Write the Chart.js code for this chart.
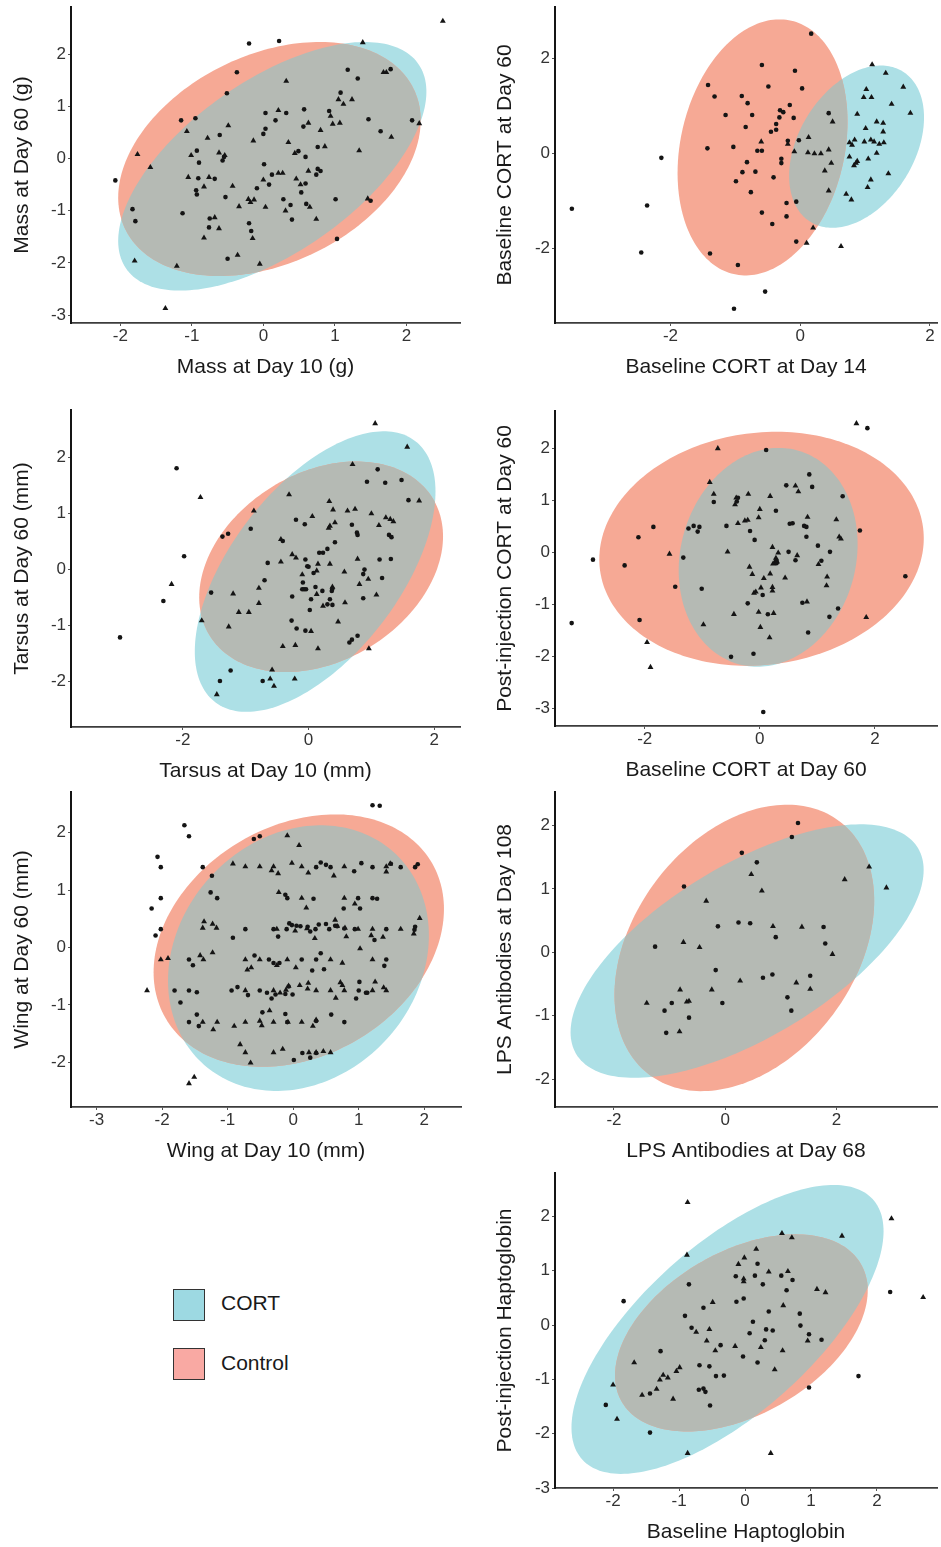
<!DOCTYPE html>
<html>
<head>
<meta charset="utf-8">
<script src="https://cdn.jsdelivr.net/npm/chart.js@4.4.1/dist/chart.umd.min.js"></script>
<style>
  html, body { margin:0; padding:0; background:#fff; }
  body { width:941px; height:1547px; position:relative; overflow:hidden; font-family:"Liberation Sans", Arial, sans-serif; }
  canvas { position:absolute; }
  .lg-box { position:absolute; width:30px; height:30px; border:1.5px solid #333; }
  .lg-txt { position:absolute; font-size:21px; color:#1a1a1a; line-height:32px; }
</style>
</head>
<body>
<div class="lg-box" style="left:173px;top:1289px;background:#9DD9E2;"></div>
<div class="lg-txt" style="left:221px;top:1287px;">CORT</div>
<div class="lg-box" style="left:173px;top:1348px;background:#F9A9A3;"></div>
<div class="lg-txt" style="left:221px;top:1347px;">Control</div>
<script>
// ---------------- DATA ----------------
// Panel 1: Mass
const p1CtrlX = [-0.20,0.22,-0.37,1.18,1.32,1.78,-0.51,1.08,0.57,0.32,0.03,0.92,0.17,-1.15,-0.95,-0.61,0.03,0.00,0.56,1.47,2.08,1.64,0.76,0.49,0.59,-0.93,-0.90,-0.55,-0.57,-2.07,-0.91,-0.68,-0.94,-0.93,-0.53,0.01,0.08,0.12,-0.09,0.59,0.53,0.74,0.76,0.80,0.28,0.38,0.60,1.01,1.50,-1.13,-1.83,-1.79,-0.75,-0.76,-0.20,-0.17,1.03,-0.50,0.40];
const p1CtrlY = [2.20,2.25,1.65,1.70,1.53,1.71,1.25,1.26,0.94,0.87,0.87,0.91,0.73,0.73,0.77,0.45,0.57,0.47,0.61,0.75,0.73,0.52,0.22,0.14,0.03,0.15,-0.08,0.03,-0.04,-0.42,-0.38,-0.39,-0.61,-0.69,-0.74,-0.11,-0.50,-0.31,-0.57,-0.48,-0.65,-0.31,-0.20,-0.24,-0.78,-0.89,-0.87,-0.78,-0.81,-1.05,-0.97,-1.20,-1.15,-1.32,-1.24,-1.39,-1.54,-1.92,-1.17];
const p1CortX = [2.51,1.39,0.32,1.68,1.72,1.05,1.12,1.24,0.21,0.94,-1.07,-0.49,-0.78,0.63,0.97,1.07,2.18,1.79,0.80,-0.14,0.35,0.86,0.44,1.34,-1.01,-0.62,-0.54,-1.76,-1.58,-1.05,-0.76,-0.83,-0.43,0.00,0.21,0.27,0.46,0.52,0.63,-0.21,-0.18,-0.13,0.31,0.65,-0.34,0.03,1.46,-0.68,-0.62,-0.83,-0.15,0.74,-1.80,-1.21,-0.36,-0.05,-1.37];
const p1CortY = [2.63,2.22,1.48,1.65,1.65,1.13,1.04,1.13,0.92,0.81,0.52,0.63,0.39,0.68,0.66,0.68,0.67,0.41,0.54,0.34,0.31,0.23,0.10,0.15,0.06,0.11,0.06,0.08,-0.17,-0.36,-0.36,-0.54,-0.53,-0.41,-0.28,-0.28,-0.39,-0.50,-0.24,-0.78,-0.84,-0.79,-1.00,-0.93,-0.92,-0.93,-0.77,-1.13,-1.34,-1.52,-1.53,-1.16,-1.96,-2.06,-1.85,-2.02,-2.87];
const p1CtrlEllipse = [0.085,-0.01,2.115,2.24,0.33];   // centre x, centre y, half width, half height, tilt
const p1CortEllipse = [0.125,-0.15,2.155,2.38,0.60];
const p1XTicks = [-2,-1,0,1,2];
const p1YTicks = [-3,-2,-1,0,1,2];

// Panel 2: Baseline CORT
const p2CtrlX = [0.17,-0.59,-0.08,-1.42,-0.49,0.03,-1.32,-0.90,-0.81,-0.16,-0.31,-0.26,-1.15,-0.74,-0.32,-0.10,-0.37,-0.84,-0.37,-0.45,0.44,-0.19,-0.02,-1.43,-1.03,-0.66,-0.59,-2.14,-0.29,-0.29,-0.82,-0.89,-0.69,-0.41,-0.99,-0.76,-0.06,-0.21,-0.59,-0.21,-0.43,-0.06,-1.39,-0.96,-0.54,-1.02,-3.52,-2.36,-2.45];
const p2CtrlY = [2.52,1.86,1.74,1.44,1.41,1.37,1.20,1.21,1.06,1.02,0.91,0.87,0.81,0.81,0.76,0.75,0.62,0.56,0.50,0.46,0.85,0.27,0.28,0.11,0.14,0.06,0.06,-0.09,-0.11,-0.20,-0.18,-0.39,-0.38,-0.50,-0.58,-0.81,-1.01,-1.04,-1.24,-1.32,-1.48,-1.85,-2.10,-2.34,-2.90,-3.26,-1.16,-1.09,-2.08];
const p2CortX = [1.11,1.32,1.59,1.02,0.98,1.10,1.41,1.70,0.88,0.50,1.18,1.28,1.01,1.28,0.13,-0.60,-0.19,0.84,0.76,0.80,0.99,1.09,1.14,1.22,1.29,0.44,-0.09,0.12,0.22,0.32,1.18,0.76,1.05,0.48,0.88,0.86,0.83,0.38,1.36,1.09,0.44,1.04,0.71,0.79,0.20,0.10,0.63];
const p2CortY = [1.87,1.69,1.40,1.35,1.18,1.18,1.04,0.85,0.83,0.67,0.67,0.64,0.53,0.46,0.34,0.25,0.20,0.29,0.23,0.18,0.25,0.29,0.25,0.20,0.23,0.08,0.04,0.02,0.00,0.00,0.01,-0.07,-0.11,-0.20,-0.16,-0.20,-0.25,-0.36,-0.42,-0.55,-0.78,-0.71,-0.85,-0.97,-1.56,-1.88,-1.95];
const p2CtrlEllipse = [-0.58,0.13,1.31,2.69,0.20];
const p2CortEllipse = [0.87,0.145,1.04,1.705,0.36];
const p2XTicks = [-2,0,2];
const p2YTicks = [-2,0,2];

// Panel 3: Tarsus
const p3CtrlX = [-2.10,1.10,0.93,1.22,1.48,1.59,-0.20,-0.06,-0.92,-1.37,-1.28,0.69,0.77,0.78,1.28,1.32,-0.41,0.42,0.30,0.17,0.23,-1.98,-0.65,-0.05,-0.02,0.00,1.13,1.31,0.89,0.87,0.08,-0.70,1.17,-0.09,-0.10,-0.07,-0.04,0.11,0.22,0.38,0.37,-1.55,-0.26,0.04,0.34,0.87,0.30,0.38,-2.31,0.02,-0.27,-0.19,-0.05,0.65,0.69,0.78,-1.24,-1.41,-0.73,-3.00];
const p3CtrlY = [1.80,1.78,1.56,1.54,1.59,1.23,0.88,0.80,0.72,0.58,0.63,0.79,0.65,0.61,0.61,0.57,0.50,0.48,0.36,0.29,0.29,0.23,0.11,0.17,0.05,0.04,0.17,0.18,-0.01,-0.09,-0.07,-0.20,-0.16,-0.24,-0.36,-0.36,-0.36,-0.32,-0.39,-0.35,-0.39,-0.42,-0.49,-0.54,-0.54,-0.52,-0.63,-0.64,-0.57,-0.73,-0.92,-1.06,-1.10,-1.31,-1.26,-1.19,-1.81,-2.00,-2.00,-1.22];
const p3CortX = [1.06,1.57,0.70,-1.72,-0.31,0.33,1.76,-0.87,0.39,0.62,0.74,0.06,1.00,1.23,1.30,1.35,1.12,0.42,0.32,0.34,-0.44,-0.26,-0.20,-0.44,0.15,0.34,0.78,0.57,-0.10,0.13,0.81,0.95,-2.18,-0.79,-1.20,0.13,0.38,1.08,-0.79,0.23,0.58,-1.11,-0.95,-1.70,-1.27,0.47,0.04,-0.41,-0.21,0.15,0.96,-0.58,-0.61,-0.55,-0.22,-1.46];
const p3CortY = [2.60,2.18,1.87,1.28,1.33,1.21,1.22,1.04,1.06,1.04,1.07,0.94,0.99,0.92,0.89,0.85,0.78,0.83,0.73,0.77,0.53,0.26,0.20,0.13,0.09,0.09,0.18,-0.05,-0.10,-0.03,-0.27,-0.18,-0.27,-0.34,-0.44,-0.45,-0.32,-0.46,-0.61,-0.66,-0.60,-0.77,-0.77,-0.92,-1.03,-0.94,-1.11,-1.38,-1.36,-1.42,-1.42,-1.80,-1.96,-2.09,-1.96,-2.24];
const p3CtrlEllipse = [0.20,0.04,1.94,1.88,0.29];
const p3CortEllipse = [0.105,-0.045,1.915,2.505,0.57];
const p3XTicks = [-2,0,2];
const p3YTicks = [-2,-1,0,1,2];

// Panel 4: Post-injection CORT
const p4CtrlX = [1.87,0.11,0.86,0.46,0.91,1.44,-0.38,-0.40,-0.80,0.28,-1.85,-1.24,-1.15,-1.05,-1.08,-0.58,-0.17,0.52,0.57,0.77,0.81,0.81,1.74,-2.11,-0.09,1.01,-2.90,-2.35,-1.33,0.50,1.22,1.07,0.62,0.29,0.29,-1.47,-1.01,0.05,2.53,-0.21,0.74,1.36,0.14,-2.09,1.21,-3.27,0.84,-0.50,-0.11,0.06];
const p4CtrlY = [2.39,1.97,1.50,1.29,1.26,1.08,1.05,0.98,0.97,0.80,0.49,0.46,0.51,0.49,0.40,0.51,0.41,0.55,0.56,0.51,0.49,0.30,0.42,0.29,0.24,0.13,-0.14,-0.25,-0.10,0.01,0.01,-0.16,-0.15,-0.16,-0.21,-0.66,-0.70,-0.82,-0.46,-0.98,-0.97,-1.08,-1.19,-1.30,-1.24,-1.36,-1.54,-2.01,-1.95,-3.07];
const p4CortX = [1.68,-0.73,-0.87,-0.80,-0.20,0.18,0.62,0.67,-0.41,-0.43,0.00,-0.02,-0.26,-0.21,-0.38,0.83,1.33,1.38,1.41,0.22,-0.56,-1.57,0.32,0.28,0.26,0.30,0.23,0.65,1.02,-0.18,-0.13,0.07,0.18,0.44,0.02,0.22,0.22,-0.10,-0.07,1.17,1.16,0.82,-0.02,0.24,-0.45,-0.98,0.01,0.17,1.85,-1.96,-1.90];
const p4CortY = [2.48,2.00,1.35,1.12,1.12,1.08,1.28,1.17,1.05,0.92,0.83,0.67,0.61,0.62,0.56,0.68,0.63,0.30,0.26,0.10,0.01,-0.03,-0.01,-0.11,-0.19,-0.18,-0.22,-0.06,-0.23,-0.28,-0.42,-0.50,-0.41,-0.49,-0.68,-0.67,-0.74,-0.78,-0.76,-0.47,-0.64,-0.95,-1.15,-1.17,-1.19,-1.39,-1.44,-1.64,-1.25,-1.73,-2.21];
const p4CtrlEllipse = [0.03,0.07,2.82,2.25,0.09];
const p4CortEllipse = [0.145,-0.095,1.555,2.105,0.12];
const p4XTicks = [-2,0,2];
const p4YTicks = [-3,-2,-1,0,1,2];

// Panel 5: Wing
const p5CtrlX = [1.21,1.32,-1.66,-1.59,-0.60,-0.51,-2.07,-2.02,-1.38,-1.24,0.42,0.35,0.50,0.57,0.93,1.04,1.21,1.49,1.64,1.86,1.90,
  -2.02,-1.26,-1.16,-0.12,-0.09,0.31,0.77,1.02,0.99,1.21,1.28,-2.16,
  -2.02,-2.10,-0.92,-0.73,-0.30,-0.23,-0.10,-0.06,-0.02,0.05,0.11,0.22,0.26,0.34,0.39,0.50,0.55,0.64,0.67,0.78,0.94,1.24,1.42,1.85,1.86,
  -1.59,-1.53,-0.59,-0.37,-0.30,-0.21,0.13,0.29,0.35,0.42,0.47,1.39,1.42,
  -1.81,-1.72,-1.59,-1.47,-0.94,-0.85,-0.69,-0.51,-0.40,-0.33,-0.27,-0.12,-0.07,-0.01,0.96,1.01,1.00,1.11,1.13,
  -1.47,-1.59,-1.44,-0.47,-0.12,-0.09,0.35,0.58,0.78,
  0.01,0.14,0.26,0.35];
const p5CtrlY = [2.48,2.47,2.13,1.94,1.89,1.94,1.58,1.40,1.40,1.25,1.48,1.40,1.44,1.40,1.33,1.47,1.40,1.46,1.40,1.40,1.45,
  0.86,0.96,0.86,0.92,0.86,0.85,0.68,0.68,0.86,0.86,0.85,0.68,
  0.32,0.21,0.17,0.32,0.32,0.19,0.32,0.42,0.39,0.38,0.37,0.36,0.28,0.32,0.40,0.41,0.32,0.38,0.37,0.33,0.32,0.13,0.32,0.31,0.36,
  -0.21,-0.31,-0.14,-0.21,-0.27,-0.27,-0.21,-0.40,-0.21,-0.10,-0.38,-0.32,-0.21,
  -0.75,-0.96,-0.75,-0.78,-0.75,-0.69,-0.83,-0.75,-0.79,-0.89,-0.82,-0.81,-0.68,-0.82,-0.89,-0.60,-0.75,-0.79,-0.79,
  -1.17,-1.30,-1.37,-1.13,-1.16,-1.30,-1.28,-1.17,-1.30,
  -1.96,-1.84,-1.92,-1.84];
const p5CortX = [-0.09,0.09,-0.92,-0.73,-0.51,-0.30,-0.33,-0.23,-0.02,0.13,0.23,0.62,0.78,1.42,1.42,1.48,
  -0.22,0.13,0.20,0.78,0.94,
  -1.36,-1.38,-1.23,-1.17,-0.25,0.03,0.21,0.33,0.64,0.67,0.79,0.81,0.99,1.21,1.19,1.37,1.64,1.84,1.93,
  -2.02,-1.91,-1.42,-1.37,-1.23,-0.73,-0.70,-0.64,-0.51,-0.25,-0.09,0.04,0.57,0.75,1.02,1.21,
  -2.23,-0.73,-0.30,-0.20,-0.11,-0.07,0.10,0.23,0.22,0.35,0.57,0.65,0.72,0.75,0.78,1.21,1.25,1.38,1.42,
  -1.38,-1.22,-1.16,-0.90,-0.73,-0.51,-0.48,-0.36,-0.30,-0.08,0.13,0.30,0.35,
  -0.81,-0.73,-0.65,-0.30,-0.16,0.24,0.35,0.46,0.57,
  -1.59,-1.51];
const p5CortY = [1.95,1.78,1.46,1.41,1.41,1.41,1.34,1.29,1.47,1.41,1.30,1.25,1.41,1.41,1.32,1.46,
  0.96,0.86,0.69,0.86,0.76,
  0.45,0.34,0.41,0.34,0.32,0.29,0.33,0.16,0.48,0.37,0.34,0.19,0.32,0.32,0.21,0.18,0.32,0.24,0.51,
  -0.21,-0.19,-0.14,-0.21,-0.09,-0.21,-0.39,-0.35,-0.21,-0.31,-0.21,-0.35,-0.21,-0.27,-0.02,-0.21,
  -0.75,-0.75,-0.75,-0.79,-0.74,-0.67,-0.66,-0.62,-0.72,-0.75,-0.75,-0.88,-0.61,-0.66,-0.75,-0.75,-0.60,-0.70,-0.75,
  -1.30,-1.43,-1.30,-1.37,-1.30,-1.28,-1.36,-1.10,-1.30,-1.30,-1.30,-1.37,-1.26,
  -1.69,-1.83,-2.01,-1.83,-1.77,-1.83,-1.83,-1.81,-1.83,
  -2.37,-2.26];
const p5CtrlEllipse = [0.085,0.12,2.215,2.20,0.25];
const p5CortEllipse = [0.08,-0.185,1.99,2.315,0.17];
const p5XTicks = [-3,-2,-1,0,1,2];
const p5YTicks = [-2,-1,0,1,2];

// Panel 6: LPS Antibodies
const p6CtrlX = [1.31,1.20,0.30,0.57,-0.74,-0.13,0.24,0.45,0.91,1.77,1.80,-1.26,-0.17,0.85,0.68,1.53,-0.96,-0.05,-1.09,-0.65,1.12,1.19,-1.06];
const p6CtrlY = [2.04,1.82,1.57,1.42,1.04,0.41,0.47,0.46,0.24,0.40,0.14,0.09,-0.28,-0.35,-0.40,-0.37,-0.80,-0.80,-0.92,-1.03,-0.71,-0.92,-1.27];
const p6CortX = [0.47,0.66,-0.34,2.59,2.15,2.90,0.86,1.38,-0.75,-0.46,1.93,0.27,1.28,1.53,-0.81,-0.24,-1.41,-0.69,-0.65,-0.82];
const p6CortY = [1.23,0.97,0.81,1.35,1.15,1.02,0.41,0.40,0.16,0.08,-0.03,-0.45,-0.48,-0.58,-0.59,-0.59,-0.80,-0.78,-0.77,-1.25];
const p6CtrlEllipse = [0.345,0.07,2.335,2.26,0.33];
const p6CortEllipse = [0.395,0.02,3.175,2.0,0.64];
const p6XTicks = [-2,0,2];
const p6YTicks = [-2,-1,0,1,2];

// Panel 7: Haptoglobin
const p7CtrlX = [-1.84,-0.85,-0.14,-0.02,0.19,0.15,0.27,0.55,0.72,0.63,-0.13,-0.63,-0.91,0.36,0.83,2.20,0.12,-0.81,0.07,0.32,0.42,0.84,0.97,0.30,1.16,-0.37,-1.28,-0.03,0.19,-0.69,-0.54,-0.44,-0.32,1.72,-0.70,-0.63,-0.60,-1.44,-0.53,-2.11,0.97,-1.44];
const p7CtrlY = [0.44,0.75,0.90,0.49,1.13,0.91,0.75,0.91,0.83,0.64,0.43,0.32,0.17,0.25,0.21,0.61,0.06,-0.05,-0.15,-0.08,-0.10,-0.01,-0.17,-0.28,-0.27,-0.37,-0.48,-0.58,-0.69,-0.74,-0.76,-0.94,-0.93,-0.94,-1.19,-1.17,-1.23,-1.26,-1.48,-1.47,-1.15,-1.98];
const p7CortX = [-0.87,2.22,0.56,0.71,1.47,-0.88,0.17,-0.01,-0.10,0.36,0.65,-0.02,-0.02,1.09,1.22,2.70,-0.49,0.58,-0.74,-0.54,-0.58,-0.15,0.24,-0.45,0.57,0.95,-1.68,-0.99,-1.04,0.45,-1.24,-1.17,-1.29,-2.00,-1.34,-1.56,-1.09,-1.94,-0.87,0.39];
const p7CortY = [2.26,1.96,1.69,1.61,1.64,1.29,1.40,1.24,1.12,0.98,0.99,0.85,0.80,0.66,0.60,0.51,0.42,0.36,-0.13,-0.08,-0.29,-0.39,-0.41,-0.47,-0.47,-0.29,-0.69,-0.78,-0.85,-0.82,-0.92,-0.97,-1.01,-1.10,-1.18,-1.29,-1.36,-1.73,-2.36,-2.36];
const p7CtrlEllipse = [-0.055,-0.145,1.915,1.815,0.43];
const p7CortEllipse = [-0.265,-0.08,2.365,2.66,0.68];
const p7XTicks = [-2,-1,0,1,2];
const p7YTicks = [-3,-2,-1,0,1,2];

// ---------------- DRAWING ----------------
Chart.defaults.font.family = '"Liberation Sans", Arial, Helvetica, sans-serif';

const COL_CTRL = '#F6A995';
const COL_CORT = '#ADE0E6';
const COL_BOTH = '#B5BAB4';
const COL_PT = '#141414';

function ellPath(ctx, xs, ys, e) {
  const [cx, cy, hx, hy, k] = e;
  const phi = Math.acos(k);
  ctx.beginPath();
  const N = 200;
  for (let i = 0; i <= N; i++) {
    const t = i / N * 2 * Math.PI;
    const px = xs.getPixelForValue(cx + hx * Math.cos(t));
    const py = ys.getPixelForValue(cy + hy * Math.cos(t - phi));
    if (i === 0) ctx.moveTo(px, py); else ctx.lineTo(px, py);
  }
  ctx.closePath();
}

function ellipsePlugin(ctrlE, cortE) {
  return {
    id: 'ellipses',
    beforeDatasetsDraw(chart) {
      const ctx = chart.ctx, a = chart.chartArea;
      const xs = chart.scales.x, ys = chart.scales.y;
      ctx.save();
      ctx.beginPath();
      ctx.rect(a.left, a.top, a.right - a.left, a.bottom - a.top);
      ctx.clip();
      ellPath(ctx, xs, ys, cortE); ctx.fillStyle = COL_CORT; ctx.fill();
      ellPath(ctx, xs, ys, ctrlE); ctx.fillStyle = COL_CTRL; ctx.fill();
      ellPath(ctx, xs, ys, ctrlE); ctx.clip();
      ellPath(ctx, xs, ys, cortE); ctx.fillStyle = COL_BOTH; ctx.fill();
      ctx.restore();
    }
  };
}

function pts(xs, ys) { return xs.map((x, i) => ({ x: x, y: ys[i] })); }

function makePanel(p) {
  const col = p.col;               // 0 left, 1 right
  const canvasLeft = col === 0 ? 0 : 480;
  const canvasW = col === 0 ? 470 : 461;
  const yW = p.L - canvasLeft;
  const padR = canvasLeft + canvasW - p.R;
  const padT = 10, xH = 75;
  const cv = document.createElement('canvas');
  cv.width = canvasW;
  cv.height = (p.B - p.T) + padT + xH;
  cv.style.left = canvasLeft + 'px';
  cv.style.top = (p.T - padT) + 'px';
  cv.style.width = cv.width + 'px';
  cv.style.height = cv.height + 'px';
  document.body.appendChild(cv);

  const yTitlePad = col === 0 ? 10.1 : 12.4;
  new Chart(cv, {
    type: 'scatter',
    data: {
      datasets: [
        { label: 'Control', data: pts(p.ctrlX, p.ctrlY), pointStyle: 'circle', radius: 2.3, backgroundColor: COL_PT, borderWidth: 0 },
        { label: 'CORT', data: pts(p.cortX, p.cortY), pointStyle: 'triangle', radius: 3.4, backgroundColor: COL_PT, borderWidth: 0 }
      ]
    },
    options: {
      responsive: false,
      animation: false,
      events: [],
      layout: { padding: { top: padT, right: padR, left: 0, bottom: 0 } },
      plugins: { legend: { display: false }, tooltip: { enabled: false } },
      scales: {
        x: {
          type: 'linear', position: 'bottom', min: p.xr[0], max: p.xr[1],
          afterBuildTicks: s => { s.ticks = p.xt.map(v => ({ value: v })); },
          afterFit: s => { s.height = xH; s.paddingLeft = 0; s.paddingRight = 0; },
          grid: { display: true, drawOnChartArea: false, drawTicks: true, tickLength: 3, color: '#555', lineWidth: 1 },
          border: { display: true, color: '#3c3c3c', width: 1.7 },
          ticks: { color: '#333', font: { size: 17 }, padding: 0, maxRotation: 0, autoSkip: false },
          title: { display: true, text: p.xTitle, color: '#1a1a1a', font: { size: 21 }, padding: { top: 0, bottom: 17.9 } }
        },
        y: {
          type: 'linear', position: 'left', min: p.yr[0], max: p.yr[1],
          afterBuildTicks: s => { s.ticks = p.yt.map(v => ({ value: v })); },
          afterFit: s => { s.width = yW; s.paddingTop = 0; s.paddingBottom = 0; },
          grid: { display: true, drawOnChartArea: false, drawTicks: true, tickLength: 3, color: '#555', lineWidth: 1 },
          border: { display: true, color: '#151515', width: 2 },
          ticks: { color: '#333', font: { size: 17 }, padding: 2, autoSkip: false },
          title: { display: true, text: p.yTitle, color: '#1a1a1a', font: { size: 21 }, padding: { top: yTitlePad, bottom: 0 } }
        }
      }
    },
    plugins: [ellipsePlugin(p.ctrlE, p.cortE)]
  });
}

makePanel({ col: 0, L: 71, R: 460, T: 7, B: 323, xr: [-2.69, 2.75], yr: [-3.15, 2.9], xt: p1XTicks, yt: p1YTicks,
  ctrlX: p1CtrlX, ctrlY: p1CtrlY, cortX: p1CortX, cortY: p1CortY, ctrlE: p1CtrlEllipse, cortE: p1CortEllipse,
  xTitle: 'Mass at Day 10 (g)', yTitle: 'Mass at Day 60 (g)' });
makePanel({ col: 1, L: 555, R: 940, T: 7, B: 323, xr: [-3.78, 2.11], yr: [-3.56, 3.08], xt: p2XTicks, yt: p2YTicks,
  ctrlX: p2CtrlX, ctrlY: p2CtrlY, cortX: p2CortX, cortY: p2CortY, ctrlE: p2CtrlEllipse, cortE: p2CortEllipse,
  xTitle: 'Baseline CORT at Day 14', yTitle: 'Baseline CORT at Day 60' });
makePanel({ col: 0, L: 71, R: 460, T: 410, B: 727, xr: [-3.78, 2.41], yr: [-2.82, 2.84], xt: p3XTicks, yt: p3YTicks,
  ctrlX: p3CtrlX, ctrlY: p3CtrlY, cortX: p3CortX, cortY: p3CortY, ctrlE: p3CtrlEllipse, cortE: p3CortEllipse,
  xTitle: 'Tarsus at Day 10 (mm)', yTitle: 'Tarsus at Day 60 (mm)' });
makePanel({ col: 1, L: 555, R: 940, T: 411, B: 726, xr: [-3.56, 3.08], yr: [-3.34, 2.72], xt: p4XTicks, yt: p4YTicks,
  ctrlX: p4CtrlX, ctrlY: p4CtrlY, cortX: p4CortX, cortY: p4CortY, ctrlE: p4CtrlEllipse, cortE: p4CortEllipse,
  xTitle: 'Baseline CORT at Day 60', yTitle: 'Post-injection CORT at Day 60' });
makePanel({ col: 0, L: 71, R: 461, T: 792, B: 1107, xr: [-3.39, 2.56], yr: [-2.78, 2.71], xt: p5XTicks, yt: p5YTicks,
  ctrlX: p5CtrlX, ctrlY: p5CtrlY, cortX: p5CortX, cortY: p5CortY, ctrlE: p5CtrlEllipse, cortE: p5CortEllipse,
  xTitle: 'Wing at Day 10 (mm)', yTitle: 'Wing at Day 60 (mm)' });
makePanel({ col: 1, L: 555, R: 940, T: 792, B: 1107, xr: [-3.06, 3.81], yr: [-2.44, 2.53], xt: p6XTicks, yt: p6YTicks,
  ctrlX: p6CtrlX, ctrlY: p6CtrlY, cortX: p6CortX, cortY: p6CortY, ctrlE: p6CtrlEllipse, cortE: p6CortEllipse,
  xTitle: 'LPS Antibodies at Day 68', yTitle: 'LPS Antibodies at Day 108' });
makePanel({ col: 1, L: 555, R: 940, T: 1173, B: 1488, xr: [-2.88, 2.91], yr: [-3.0, 2.80], xt: p7XTicks, yt: p7YTicks,
  ctrlX: p7CtrlX, ctrlY: p7CtrlY, cortX: p7CortX, cortY: p7CortY, ctrlE: p7CtrlEllipse, cortE: p7CortEllipse,
  xTitle: 'Baseline Haptoglobin', yTitle: 'Post-injection Haptoglobin' });
</script>
</body>
</html>
